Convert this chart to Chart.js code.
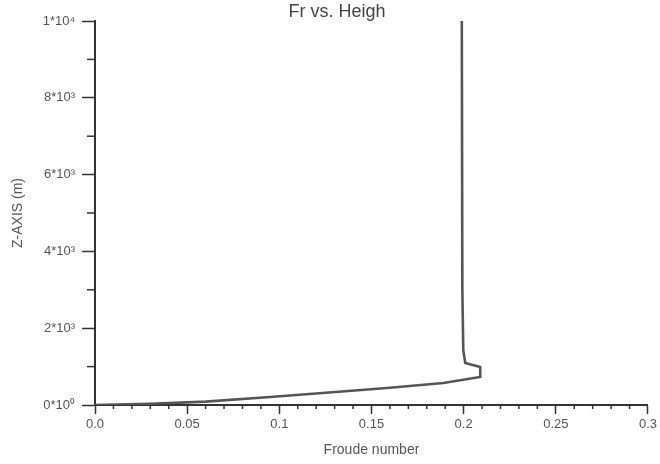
<!DOCTYPE html>
<html>
<head>
<meta charset="utf-8">
<script src="https://cdn.jsdelivr.net/npm/chart.js@4.4.0/dist/chart.umd.min.js"></script>
<style>
  html, body { margin: 0; padding: 0; background: #fff; }
  #wrap { width: 660px; height: 464px; position: relative; }
</style>
</head>
<body>
<div id="wrap"><canvas id="frChart"></canvas></div>
<script>
// Froude number vs height
const froude = [0.0, 0.03, 0.06, 0.095, 0.1305, 0.16, 0.189, 0.209, 0.209, 0.2009, 0.1998, 0.1993, 0.199];
const height = [0, 32, 88, 210, 340, 450, 573, 730, 990, 1094, 1430, 3000, 10000];

const xTickLabels = ['0.0', '0.05', '0.1', '0.15', '0.2', '0.25', '0.3'];
const yTickLabels = ['0*10\u2070', '2*10\u00b3', '4*10\u00b3', '6*10\u00b3', '8*10\u00b3', '1*10\u2074'];

const FONT = "'Liberation Sans', Arial, sans-serif";
const INK = '#333';
const TXT = '#555';

var pts = [];
for (var i = 0; i < froude.length; i++) {
  pts.push({ x: froude[i], y: height[i] });
}

// title + minor ticks
const extras = {
  id: 'extras',
  afterDraw(chart) {
    const ctx = chart.ctx;
    const xs = chart.scales.x, ys = chart.scales.y;
    ctx.save();
    ctx.strokeStyle = INK;
    ctx.lineWidth = 1.5;
    // x minor ticks every 0.01
    for (var k = 1; k < 30; k++) {
      if (k % 5 === 0) continue;
      var px = xs.getPixelForValue(k / 100);
      ctx.beginPath();
      ctx.moveTo(px, ys.bottom);
      ctx.lineTo(px, ys.bottom + 4);
      ctx.stroke();
    }
    // y minor ticks every 1000
    for (var m = 1000; m < 10000; m += 2000) {
      var py = ys.getPixelForValue(m);
      ctx.beginPath();
      ctx.moveTo(xs.left, py);
      ctx.lineTo(xs.left - 8, py);
      ctx.stroke();
    }
    ctx.fillStyle = '#444';
    ctx.font = '18px ' + FONT;
    ctx.textAlign = 'center';
    ctx.textBaseline = 'middle';
    ctx.fillText('Fr vs. Heigh', 337, 12);
    ctx.restore();
  }
};

const config = {
  type: 'scatter',
  data: {
    datasets: [{
      data: pts,
      showLine: true,
      borderColor: '#555',
      borderWidth: 2.6,
      pointRadius: 0,
      tension: 0,
      fill: false
    }]
  },
  options: {
    responsive: true,
    maintainAspectRatio: false,
    animation: false,
    layout: { padding: { top: 21, right: 12, left: 0, bottom: 0 } },
    plugins: {
      legend: { display: false },
      tooltip: { enabled: false },
      title: { display: false }
    },
    scales: {
      x: {
        type: 'linear',
        min: 0,
        max: 0.3,
        afterBuildTicks: function(s) {
          s.ticks = xTickLabels.map(function(t, i) { return { value: i * 0.05 }; });
        },
        afterFit: function(s) { s.height = 59; },
        ticks: {
          color: TXT,
          font: { family: FONT, size: 13 },
          padding: 3,
          maxRotation: 0,
          callback: function(v, idx) { return xTickLabels[idx]; }
        },
        grid: { drawOnChartArea: false, tickLength: 9, tickColor: INK, tickWidth: 1.5 },
        border: { color: INK, width: 2 },
        title: {
          display: true,
          text: 'Froude number',
          color: TXT,
          font: { family: FONT, size: 14 },
          padding: { top: 0, bottom: 5 }
        }
      },
      y: {
        type: 'linear',
        min: 0,
        max: 10000,
        afterBuildTicks: function(s) {
          s.ticks = yTickLabels.map(function(t, i) { return { value: i * 2000 }; });
        },
        afterFit: function(s) { s.width = 95; },
        ticks: {
          color: TXT,
          font: { family: FONT, size: 13 },
          padding: 7,
          callback: function(v, idx) { return yTickLabels[idx]; }
        },
        grid: { drawOnChartArea: false, tickLength: 13, tickColor: INK, tickWidth: 1.5 },
        border: { color: INK, width: 2 },
        title: {
          display: true,
          text: 'Z-AXIS (m)',
          color: TXT,
          font: { family: FONT, size: 14 },
          padding: { top: 10, bottom: 0 }
        }
      }
    }
  },
  plugins: [extras]
};

new Chart('frChart', config);
</script>
</body>
</html>
